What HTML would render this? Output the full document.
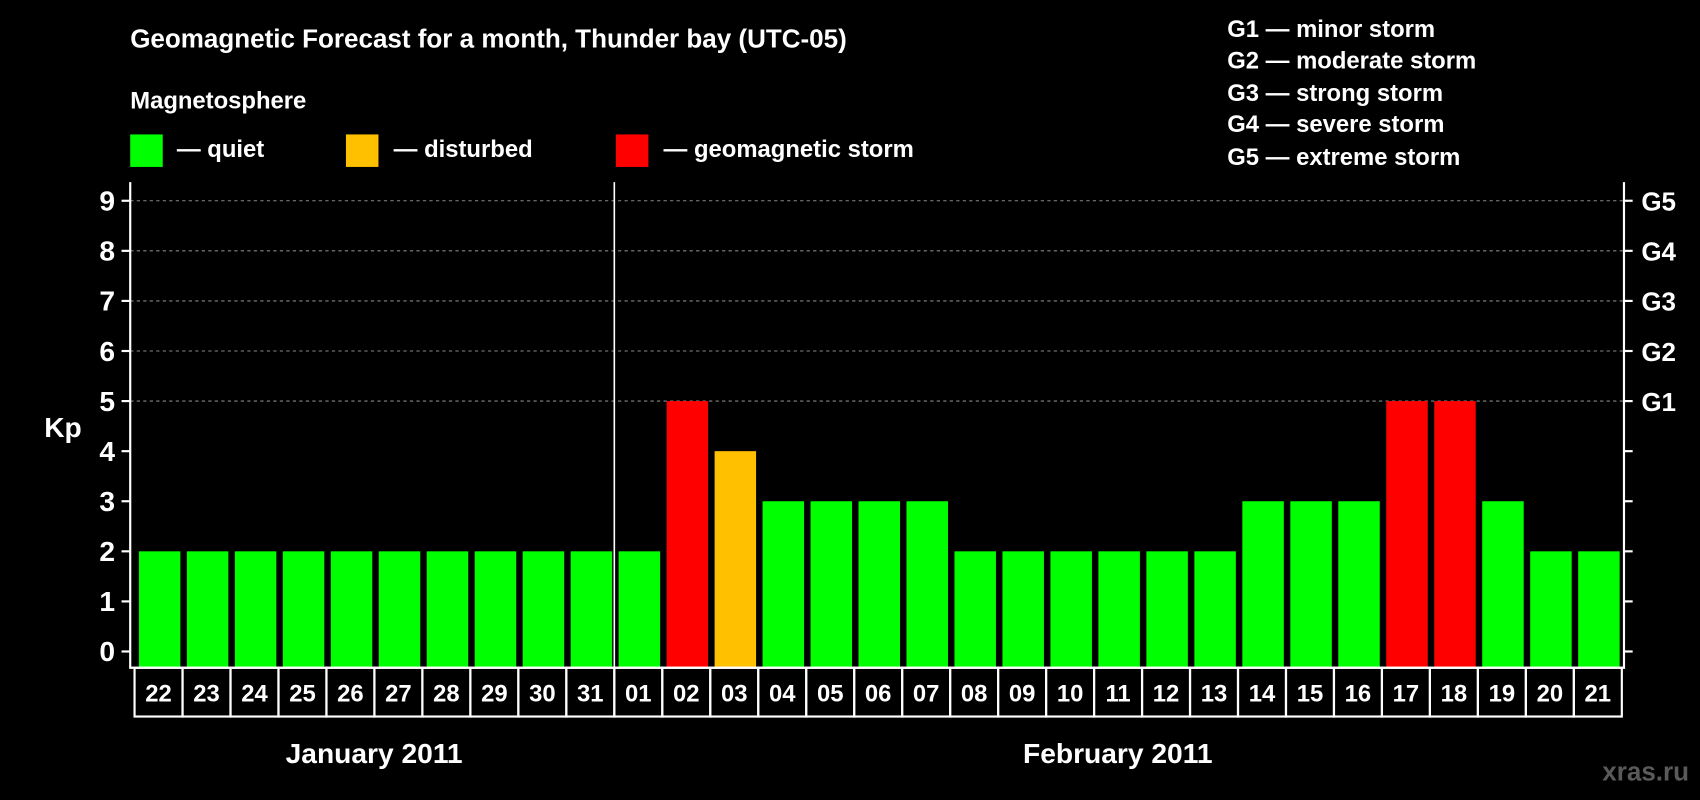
<!DOCTYPE html>
<html><head><meta charset="utf-8"><style>
html,body{margin:0;padding:0;background:#000;width:1700px;height:800px;overflow:hidden}
svg{display:block}
text{font-family:"Liberation Sans",Arial,sans-serif;font-weight:bold;fill:#fff}
</style></head><body>
<svg id="chart" width="1700" height="800" viewBox="0 0 1568 738" xmlns="http://www.w3.org/2000/svg">
<rect width="1568" height="738" fill="#000"/>
<text x="120" y="44" font-size="24">Geomagnetic Forecast for a month, Thunder bay (UTC-05)</text>
<text x="120" y="100" font-size="22">Magnetosphere</text>
<g>
<rect x="120" y="124" width="30" height="30" fill="#00ff00"/>
<text x="163" y="145" font-size="22">— quiet</text>
<rect x="319" y="124" width="30" height="30" fill="#ffc000"/>
<text x="363" y="145" font-size="22">— disturbed</text>
<rect x="568" y="124" width="30" height="30" fill="#ff0000"/>
<text x="612" y="145" font-size="22">— geomagnetic storm</text>
</g>
<g font-size="22">
<text x="1132" y="34">G1 — minor storm</text>
<text x="1132" y="63">G2 — moderate storm</text>
<text x="1132" y="93">G3 — strong storm</text>
<text x="1132" y="122">G4 — severe storm</text>
<text x="1132" y="152">G5 — extreme storm</text>
</g>
<g id="grid"></g>
<g id="bars"></g>
<g id="axes"></g>
<text x="58" y="403" font-size="26" text-anchor="middle">Kp</text>
<text x="345" y="704" font-size="26" text-anchor="middle">January 2011</text>
<text x="1031" y="704" font-size="26" text-anchor="middle">February 2011</text>
<text x="1558" y="720" font-size="24" text-anchor="end" fill="#555" style="fill:#5a5a5a">xras.ru</text>
</svg>
<script>
const days = ["22","23","24","25","26","27","28","29","30","31","01","02","03","04","05","06","07","08","09","10","11","12","13","14","15","16","17","18","19","20","21"];
const kpValues = [2,2,2,2,2,2,2,2,2,2,2,5,4,3,3,3,3,2,2,2,2,2,2,3,3,3,5,5,3,2,2];
const yTicks = [0,1,2,3,4,5,6,7,8,9];
const gLabels = ["G1","G2","G3","G4","G5"];
const gLevels = [5,6,7,8,9];

const NS="http://www.w3.org/2000/svg";
const L=120,R=1498,T=168,B=616,cellL=124,cellW=(1496-124)/31;
const y=v=>601-v*46.2;
const xCell=i=>cellL+i*cellW;
function mk(tag,attrs,parent){const e=document.createElementNS(NS,tag);for(const k in attrs)e.setAttribute(k,attrs[k]);parent.appendChild(e);return e;}
const grid=document.getElementById('grid'),bars=document.getElementById('bars'),axes=document.getElementById('axes');
gLevels.forEach((v,i)=>{
  const ln=mk('line',{x1:L,x2:R,y1:y(v),y2:y(v),stroke:'#888','stroke-dasharray':'3,3','stroke-width':1},grid);
  
  
  const t=mk('text',{x:1514,y:y(v)+9,'font-size':24},axes);t.textContent=gLabels[i];
  
  
});
kpValues.forEach((v,i)=>{
  const c=v>=5?'#ff0000':(v>=4?'#ffc000':'#00ff00');
  const r=mk('rect',{x:xCell(i)+4,y:y(v),width:cellW-6,height:B-y(v),fill:c},bars);
  
  
  const cell=mk('rect',{x:xCell(i),y:B,width:cellW,height:45,fill:'none',stroke:'#fff','stroke-width':2},axes);
  
  
  const t=mk('text',{x:xCell(i)+cellW/2,y:B+31,'font-size':22,'text-anchor':'middle'},axes);t.textContent=days[i];
  
  
});
yTicks.forEach(v=>{
  const tk=mk('line',{x1:L-8,x2:L,y1:y(v),y2:y(v),stroke:'#fff','stroke-width':2},axes);
  
  
  const tr=mk('line',{x1:R,x2:R+8,y1:y(v),y2:y(v),stroke:'#fff','stroke-width':2},axes);
  
  
  const t=mk('text',{x:106,y:y(v)+9,'font-size':26,'text-anchor':'end'},axes);t.textContent=v;
  
  
});
const frame=mk('path',{d:`M${L},${T}V${B}H${R}V${T}`,fill:'none',stroke:'#fff','stroke-width':2},axes);


const div=mk('line',{x1:xCell(10),x2:xCell(10),y1:T,y2:B,stroke:'#fff','stroke-width':1.5},axes);


</script>
</body></html>
